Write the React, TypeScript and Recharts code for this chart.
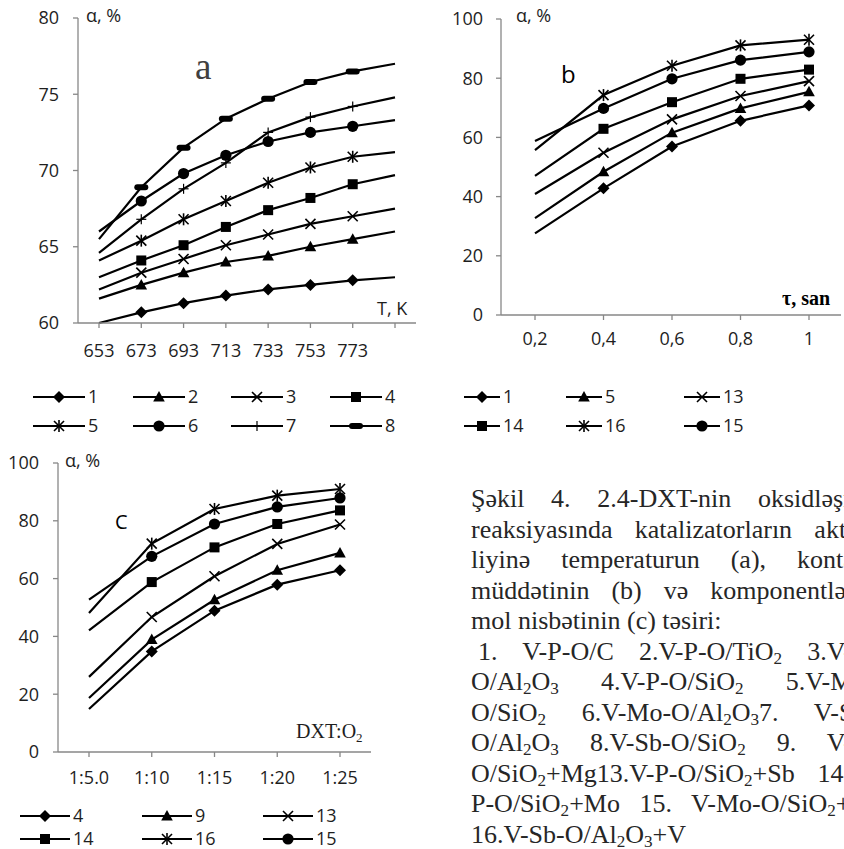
import React from 'react';
import { LineChart, Line, XAxis, YAxis } from 'recharts';

// ---------- Chart a: temperature ----------
const tempsA = [653, 673, 693, 713, 733, 753, 773, 793];
const tempTickLabelsA = ['653', '673', '693', '713', '733', '753', '773', ''];
const yTicksA = [60, 65, 70, 75, 80];
const a1 = [60.0, 60.7, 61.3, 61.8, 62.2, 62.5, 62.8, 63.0];
const a2 = [61.6, 62.5, 63.3, 64.0, 64.4, 65.0, 65.5, 66.0];
const a3 = [62.2, 63.3, 64.2, 65.1, 65.8, 66.5, 67.0, 67.5];
const a4 = [63.0, 64.1, 65.1, 66.3, 67.4, 68.2, 69.1, 69.7];
const a5 = [64.1, 65.4, 66.8, 68.0, 69.2, 70.2, 70.9, 71.2];
const a6 = [66.0, 68.0, 69.8, 71.0, 71.9, 72.5, 72.9, 73.3];
const a7 = [64.6, 66.8, 68.8, 70.5, 72.5, 73.5, 74.2, 74.8];
const a8 = [65.5, 68.9, 71.5, 73.4, 74.7, 75.8, 76.5, 77.0];

// ---------- Chart b: contact time ----------
const tauB = ['0,2', '0,4', '0,6', '0,8', '1'];
const yTicksB = [0, 20, 40, 60, 80, 100];
const b1 = [27.6, 42.8, 56.9, 65.6, 70.8];
const b5 = [32.7, 48.4, 61.6, 69.8, 75.4];
const b13 = [40.9, 54.8, 66.1, 74.0, 79.0];
const b14 = [47.0, 62.9, 71.9, 79.8, 82.9];
const b16 = [55.7, 74.3, 84.2, 91.1, 93.0];
const b15 = [58.8, 69.8, 79.8, 86.1, 88.9];

// ---------- Chart c: mole ratio ----------
const ratioC = ['1:5.0', '1:10', '1:15', '1:20', '1:25'];
const yTicksC = [0, 20, 40, 60, 80, 100];
const c4 = [14.9, 34.8, 48.9, 57.9, 62.9];
const c9 = [18.7, 38.9, 52.7, 62.9, 68.9];
const c13 = [26.0, 46.7, 60.8, 72.0, 78.7];
const c14 = [42.1, 58.8, 70.8, 78.9, 83.6];
const c16 = [48.1, 72.1, 84.1, 88.7, 91.0];
const c15 = [52.7, 67.7, 78.9, 84.8, 87.9];

type Shape = 'diamond' | 'triangle' | 'cross' | 'square' | 'star' | 'circle' | 'plus' | 'dash';

const seriesA: { key: string; name: string; shape: Shape; values: number[] }[] = [
  { key: 's1', name: '1', shape: 'diamond', values: a1 },
  { key: 's2', name: '2', shape: 'triangle', values: a2 },
  { key: 's3', name: '3', shape: 'cross', values: a3 },
  { key: 's4', name: '4', shape: 'square', values: a4 },
  { key: 's5', name: '5', shape: 'star', values: a5 },
  { key: 's6', name: '6', shape: 'circle', values: a6 },
  { key: 's7', name: '7', shape: 'plus', values: a7 },
  { key: 's8', name: '8', shape: 'dash', values: a8 },
];
const seriesB: { key: string; name: string; shape: Shape; values: number[] }[] = [
  { key: 'b1', name: '1', shape: 'diamond', values: b1 },
  { key: 'b5', name: '5', shape: 'triangle', values: b5 },
  { key: 'b13', name: '13', shape: 'cross', values: b13 },
  { key: 'b14', name: '14', shape: 'square', values: b14 },
  { key: 'b16', name: '16', shape: 'star', values: b16 },
  { key: 'b15', name: '15', shape: 'circle', values: b15 },
];
const seriesC: { key: string; name: string; shape: Shape; values: number[] }[] = [
  { key: 'c4', name: '4', shape: 'diamond', values: c4 },
  { key: 'c9', name: '9', shape: 'triangle', values: c9 },
  { key: 'c13', name: '13', shape: 'cross', values: c13 },
  { key: 'c14', name: '14', shape: 'square', values: c14 },
  { key: 'c16', name: '16', shape: 'star', values: c16 },
  { key: 'c15', name: '15', shape: 'circle', values: c15 },
];

const dataA = tempsA.map((t, i) => {
  const row: Record<string, number | string> = { t: String(t) };
  seriesA.forEach((s) => (row[s.key] = s.values[i]));
  return row;
});
const dataB = tauB.map((t, i) => {
  const row: Record<string, number | string> = { t };
  seriesB.forEach((s) => (row[s.key] = s.values[i]));
  return row;
});
const dataC = ratioC.map((t, i) => {
  const row: Record<string, number | string> = { t };
  seriesC.forEach((s) => (row[s.key] = s.values[i]));
  return row;
});

const SANS = "'Open Sans', 'Liberation Sans', sans-serif";
const SERIF = "'Liberation Serif', 'Times New Roman', serif";
const AXIS = '#878787';
const INK = '#1e1e1e';

function Marker({ shape, cx, cy }: { shape: Shape; cx: number; cy: number }) {
  switch (shape) {
    case 'diamond':
      return <polygon points={`${cx},${cy - 6} ${cx + 6},${cy} ${cx},${cy + 6} ${cx - 6},${cy}`} fill="#000" />;
    case 'triangle':
      return <polygon points={`${cx},${cy - 6} ${cx + 5.8},${cy + 4.5} ${cx - 5.8},${cy + 4.5}`} fill="#000" />;
    case 'square':
      return <rect x={cx - 5} y={cy - 5} width={10} height={10} fill="#000" />;
    case 'circle':
      return <circle cx={cx} cy={cy} r={5.6} fill="#000" />;
    case 'cross':
      return (
        <g stroke="#000" strokeWidth={1.6}>
          <line x1={cx - 5} y1={cy - 5} x2={cx + 5} y2={cy + 5} />
          <line x1={cx - 5} y1={cy + 5} x2={cx + 5} y2={cy - 5} />
        </g>
      );
    case 'star':
      return (
        <g stroke="#000" strokeWidth={1.6}>
          <line x1={cx - 5} y1={cy - 5} x2={cx + 5} y2={cy + 5} />
          <line x1={cx - 5} y1={cy + 5} x2={cx + 5} y2={cy - 5} />
          <line x1={cx} y1={cy - 6} x2={cx} y2={cy + 6} />
        </g>
      );
    case 'plus':
      return (
        <g stroke="#000" strokeWidth={1.2}>
          <line x1={cx - 5} y1={cy} x2={cx + 5} y2={cy} />
          <line x1={cx} y1={cy - 5} x2={cx} y2={cy + 5} />
        </g>
      );
    case 'dash':
      return <rect x={cx - 7} y={cy - 3} width={14} height={6} rx={3} fill="#000" />;
  }
  return null;
}

const makeDot = (shape: Shape, skip: number[]) => (props: any) => {
  const { cx, cy, index } = props;
  const k = `${shape}-${index}`;
  if (skip.includes(index) || cx == null || cy == null) return <g key={k} />;
  return (
    <g key={k}>
      <Marker shape={shape} cx={cx} cy={cy} />
    </g>
  );
};

const tickStyle = { fill: INK, fontSize: 18, fontFamily: SANS };

function LegendRow({
  items,
  xs,
  lineLen,
  y,
}: {
  items: { name: string; shape: Shape }[];
  xs: number[];
  lineLen: number;
  y: number;
}) {
  return (
    <g>
      {items.map((it, i) => (
        <g key={it.name}>
          <line x1={xs[i]} x2={xs[i] + lineLen} y1={y} y2={y} stroke="#000" strokeWidth={2} />
          <Marker shape={it.shape} cx={xs[i] + lineLen / 2} cy={y} />
          <text x={xs[i] + lineLen + 3} y={y + 6} fontSize={18} fontFamily={SANS} fill={INK}>
            {it.name}
          </text>
        </g>
      ))}
    </g>
  );
}

const textLines: { parts: (string | [string])[]; justify: boolean; indent?: number }[] = [
  { parts: ['Şəkil 4. 2.4-DXT-nin oksidləşmə'], justify: true },
  { parts: ['reaksiyasında katalizatorların aktiv-'], justify: true },
  { parts: ['liyinə temperaturun (a), kontakt'], justify: true },
  { parts: ['müddətinin (b) və komponentlərin'], justify: true },
  { parts: ['mol nisbətinin (c) təsiri:'], justify: false },
  { parts: ['1. V-P-O/C 2.V-P-O/TiO', ['2'], ' 3.V-P-'], justify: true, indent: 7 },
  { parts: ['O/Al', ['2'], 'O', ['3'], ' 4.V-P-O/SiO', ['2'], ' 5.V-Mo-'], justify: true },
  { parts: ['O/SiO', ['2'], ' 6.V-Mo-O/Al', ['2'], 'O', ['3'], '7. V-Sb-'], justify: true },
  { parts: ['O/Al', ['2'], 'O', ['3'], ' 8.V-Sb-O/SiO', ['2'], ' 9. V-P-'], justify: true },
  { parts: ['O/SiO', ['2'], '+Mg13.V-P-O/SiO', ['2'], '+Sb 14.V-'], justify: true },
  { parts: ['P-O/SiO', ['2'], '+Mo 15. V-Mo-O/SiO', ['2'], '+W'], justify: true },
  { parts: ['16.V-Sb-O/Al', ['2'], 'O', ['3'], '+V'], justify: false },
];

const axisProps = {
  axisLine: { stroke: AXIS, strokeWidth: 1.3 },
  tickLine: { stroke: AXIS, strokeWidth: 1.3 },
  tickSize: 5,
  tick: tickStyle,
};

export default function App() {
  return (
    <div
      style={{
        position: 'absolute',
        left: 0,
        top: 0,
        width: 844,
        height: 849,
        background: '#fff',
        overflow: 'hidden',
      }}
    >
      {/* Chart a */}
      <div style={{ position: 'absolute', left: 0, top: 0 }}>
        <LineChart width={420} height={380} data={dataA} margin={{ top: 18, right: 4, bottom: 27, left: 18 }}>
          <XAxis
            dataKey="t"
            type="category"
            interval={0}
            padding={{ left: 21, right: 21 }}
            tickFormatter={(v: any, i: number) => tempTickLabelsA[i]}
            tickMargin={16}
            {...axisProps}
          />
          <YAxis
            type="number"
            domain={[60, 80]}
            ticks={yTicksA}
            interval={0}
            width={60}
            tickMargin={14}
            {...axisProps}
          />
          {seriesA.map((s) => (
            <Line
              key={s.key}
              dataKey={s.key}
              type="linear"
              stroke="#000"
              strokeWidth={2.2}
              dot={makeDot(s.shape, [0, tempsA.length - 1])}
              activeDot={false}
              isAnimationActive={false}
            />
          ))}
        </LineChart>
      </div>

      {/* Chart b */}
      <div style={{ position: 'absolute', left: 420, top: 0 }}>
        <LineChart width={424} height={380} data={dataB} margin={{ top: 19, right: 3, bottom: 35, left: 21 }}>
          <XAxis
            dataKey="t"
            type="category"
            interval={0}
            padding={{ left: 34, right: 32 }}
            tickMargin={12}
            {...axisProps}
          />
          <YAxis
            type="number"
            domain={[0, 100]}
            ticks={yTicksB}
            interval={0}
            width={60}
            tickMargin={13}
            {...axisProps}
          />
          {seriesB.map((s) => (
            <Line
              key={s.key}
              dataKey={s.key}
              type="linear"
              stroke="#000"
              strokeWidth={2.2}
              dot={makeDot(s.shape, [0])}
              activeDot={false}
              isAnimationActive={false}
            />
          ))}
        </LineChart>
      </div>

      {/* Chart c */}
      <div style={{ position: 'absolute', left: 0, top: 380 }}>
        <LineChart width={420} height={469} data={dataC} margin={{ top: 83, right: 49, bottom: 67, left: 8 }}>
          <XAxis
            dataKey="t"
            type="category"
            interval={0}
            padding={{ left: 31, right: 31 }}
            tickMargin={14}
            {...axisProps}
          />
          <YAxis
            type="number"
            domain={[0, 100]}
            ticks={yTicksC}
            interval={0}
            width={50}
            tickMargin={14}
            {...axisProps}
          />
          {seriesC.map((s) => (
            <Line
              key={s.key}
              dataKey={s.key}
              type="linear"
              stroke="#000"
              strokeWidth={2.2}
              dot={makeDot(s.shape, [0])}
              activeDot={false}
              isAnimationActive={false}
            />
          ))}
        </LineChart>
      </div>

      {/* Annotations and legends */}
      <svg
        width={844}
        height={849}
        style={{ position: 'absolute', left: 0, top: 0, pointerEvents: 'none' }}
      >
        <text x={86} y={22} fontSize={18} fontFamily={SANS} fill={INK}>α, %</text>
        <text x={195} y={79} fontSize={37} fontFamily={SERIF} fill="#404040">a</text>
        <text x={377} y={315} fontSize={18} fontFamily={SANS} fill={INK}>T, K</text>

        <text x={516} y={22} fontSize={18} fontFamily={SANS} fill={INK}>α, %</text>
        <text x={561} y={83} fontSize={24} fontFamily={SANS} fill="#000">b</text>
        <text x={782} y={305} fontSize={20} fontFamily={SERIF} fontWeight="bold" fill="#000">τ, san</text>

        <text x={65} y={467} fontSize={18} fontFamily={SANS} fill={INK}>α, %</text>
        <text x={115} y={529} fontSize={20} fontFamily={SANS} fill="#000">C</text>
        <text x={296} y={738} fontSize={20} fontFamily={SERIF} fill={INK}>
          DXT:O<tspan fontSize={13} dy={4}>2</tspan>
        </text>

        <LegendRow items={seriesA.slice(0, 4)} xs={[33, 133, 231, 330]} lineLen={52} y={397} />
        <LegendRow items={seriesA.slice(4, 8)} xs={[33, 133, 231, 330]} lineLen={52} y={426} />

        <LegendRow items={seriesB.slice(0, 3)} xs={[464, 566, 684]} lineLen={36} y={397} />
        <LegendRow items={seriesB.slice(3, 6)} xs={[464, 566, 684]} lineLen={36} y={426} />

        <LegendRow items={seriesC.slice(0, 3)} xs={[20, 142, 263]} lineLen={50} y={816} />
        <LegendRow items={seriesC.slice(3, 6)} xs={[20, 142, 263]} lineLen={50} y={839} />
      </svg>

      {/* Caption */}
      {textLines.map((ln, i) => (
        <div
          key={i}
          style={{
            position: 'absolute',
            left: 471 + (ln.indent || 0),
            top: 484 + i * 30.5,
            width: 404 - (ln.indent || 0),
            fontFamily: SERIF,
            fontSize: 26,
            lineHeight: '30px',
            color: '#262626',
            whiteSpace: 'nowrap',
            textAlign: ln.justify ? 'justify' : 'left',
            textAlignLast: ln.justify ? 'justify' : 'left',
          }}
        >
          {ln.parts.map((p, j) =>
            typeof p === 'string' ? (
              <span key={j}>{p}</span>
            ) : (
              <span key={j} style={{ fontSize: '0.66em', verticalAlign: '-0.22em' }}>
                {p[0]}
              </span>
            )
          )}
        </div>
      ))}
    </div>
  );
}
